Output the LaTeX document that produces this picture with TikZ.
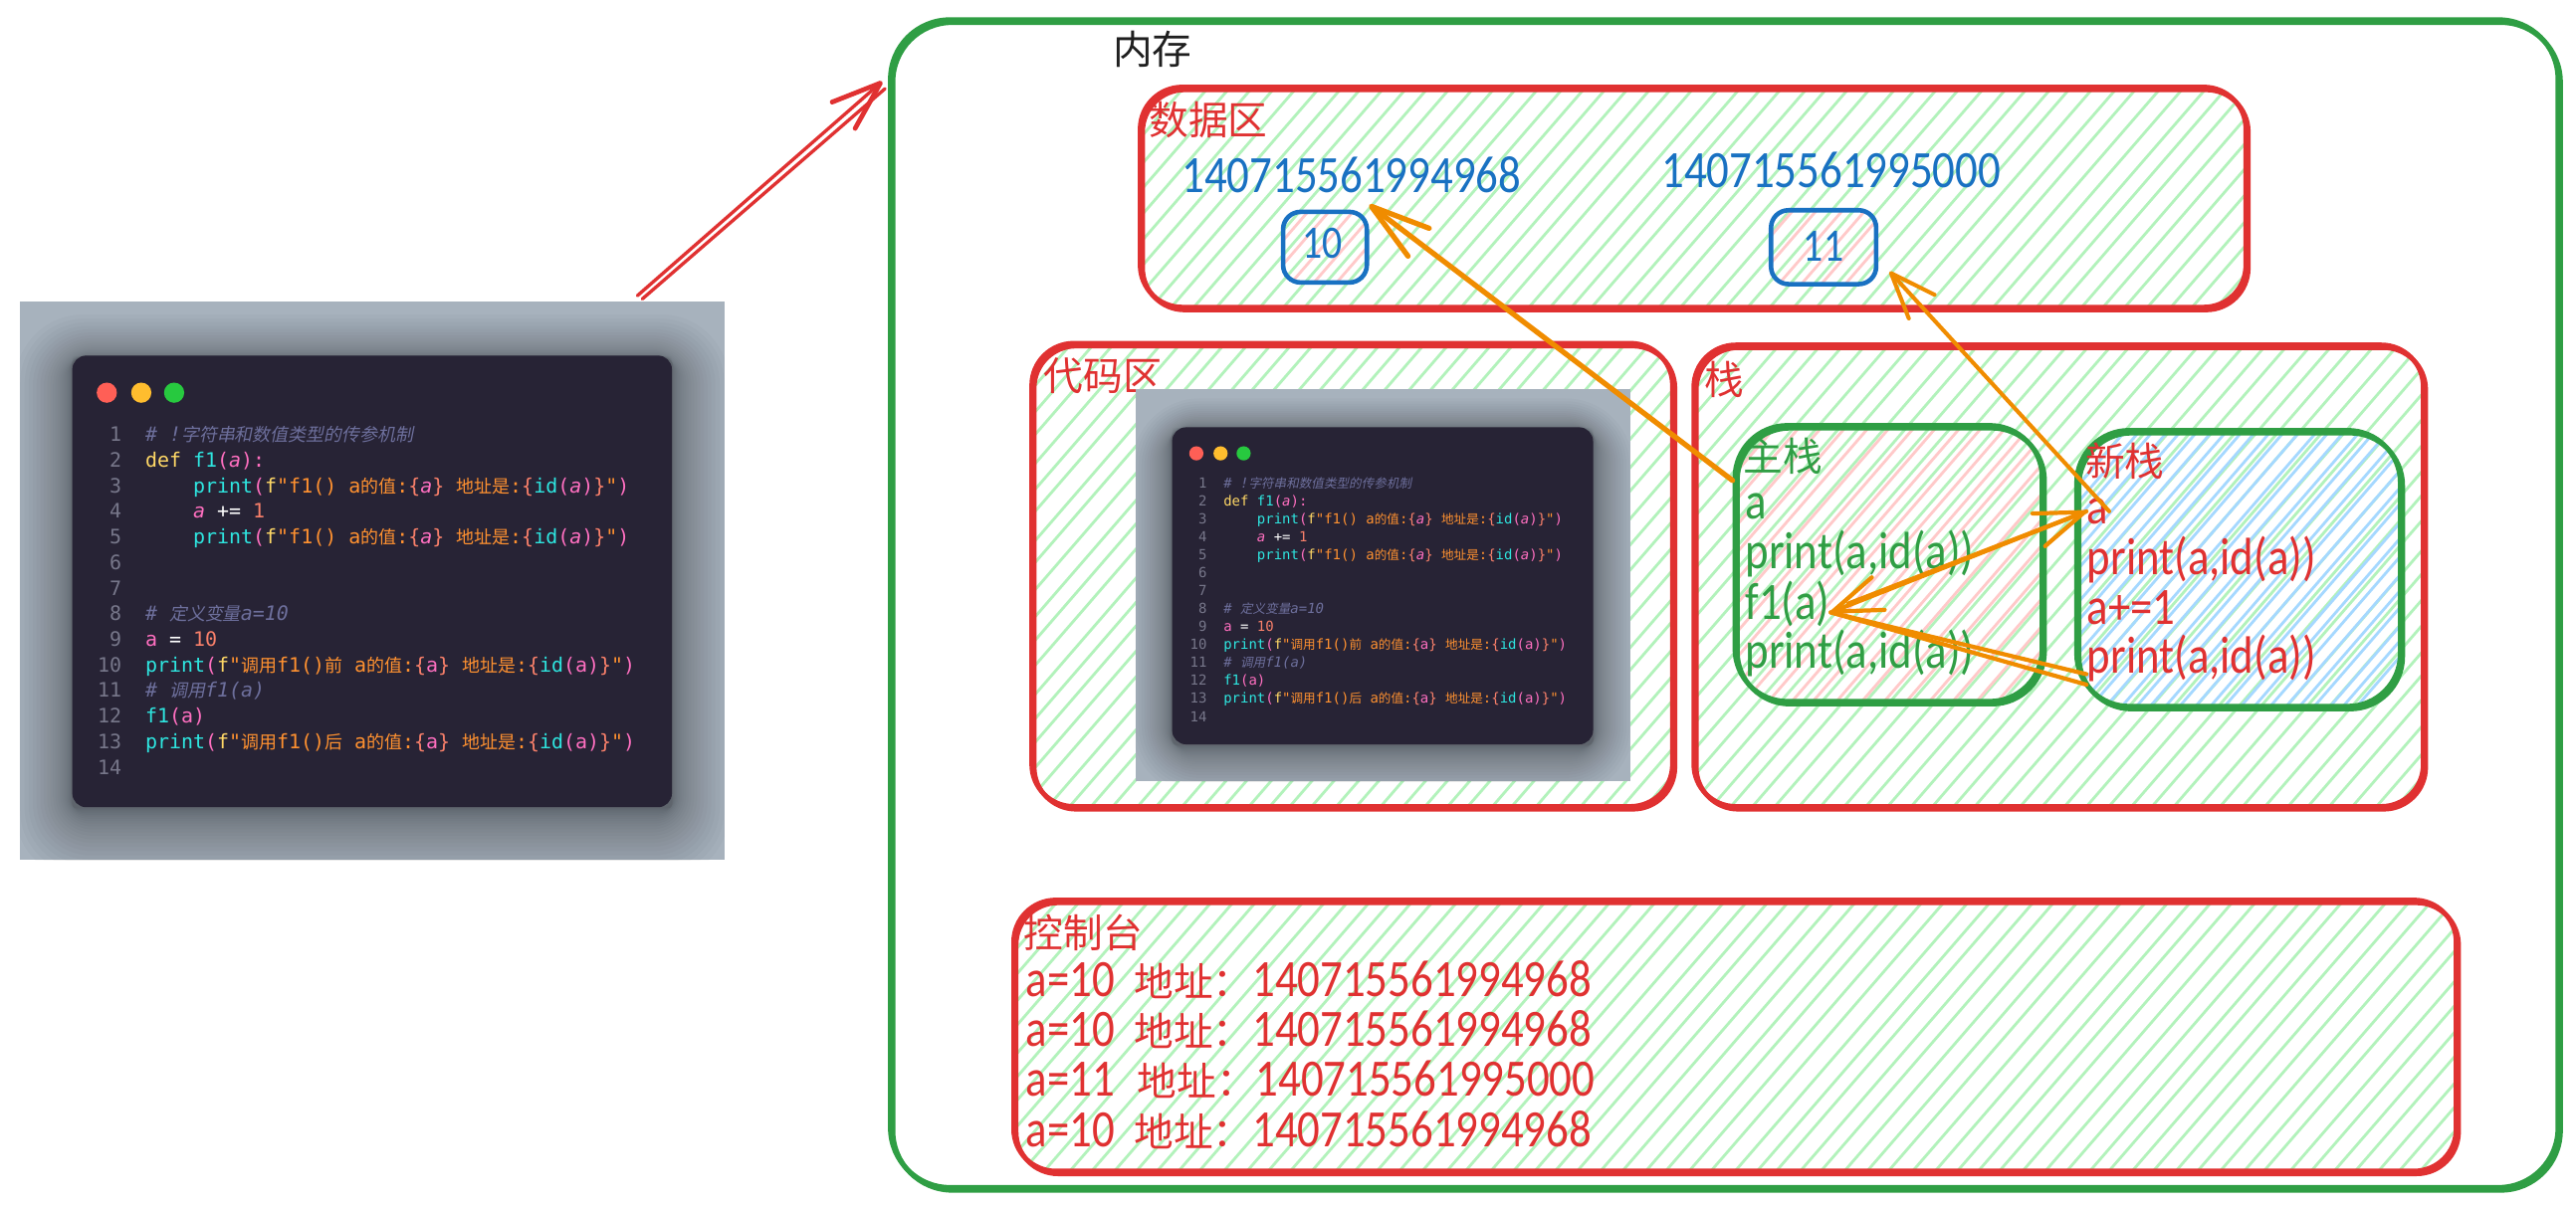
\documentclass[tikz,border=0pt]{standalone}
\usepackage{fontspec}
\usepackage{array}
\usetikzlibrary{arrows.meta, fit}
\setmonofont{DejaVu Sans Mono}
\newfontfamily\zhfam{Noto Sans CJK SC}
\newfontfamily\zhcode[Scale=0.9]{Noto Sans CJK SC}
\newfontfamily\zhslant[Scale=0.9,FakeSlant=0.2]{Noto Sans CJK SC}
\newfontfamily\handfam[FakeStretch=0.85]{Carlito}
\newcommand{\handfont}{\handfam\fontsize{15}{17}\selectfont}
\newcommand{\valfont}{\handfam\fontsize{13.3}{15}\selectfont}
\newcommand{\labelfont}{\zhfam\fontsize{11.3}{13}\selectfont}

\definecolor{skred}{HTML}{E03131}
\definecolor{skgreen}{HTML}{2F9E44}
\definecolor{skblue}{HTML}{1971C2}
\definecolor{skorange}{HTML}{F08C00}
\definecolor{hgreen}{HTML}{B2F2BB}
\definecolor{hpink}{HTML}{FFC9C9}
\definecolor{hblue}{HTML}{A5D8FF}
\definecolor{shotbg}{HTML}{A7B2BD}
\definecolor{shotcard}{HTML}{272335}
\definecolor{cnum}{HTML}{77778A}
\definecolor{ccom}{HTML}{6D6F9C}
\definecolor{cyel}{HTML}{FFD866}
\definecolor{ccy}{HTML}{2EE6E0}
\definecolor{cpk}{HTML}{FF6FC0}
\definecolor{cor}{HTML}{FF9130}
\definecolor{cco}{HTML}{F9806A}

\newlength{\codecw}
\newcommand{\zh}[1]{\smash{{\zhcode #1}}}
\newcommand{\zhit}[1]{\smash{{\zhslant #1}}}
\newcommand{\Kw}[1]{\textcolor{cyel}{#1}}
\newcommand{\Fn}[1]{\textcolor{ccy}{#1}}
\newcommand{\Pk}[1]{\textcolor{cpk}{#1}}
\newcommand{\Or}[1]{\textcolor{cor}{#1}}
\newcommand{\Co}[1]{\textcolor{cco}{#1}}
\newcommand{\Cm}[1]{\textcolor{ccom}{\itshape #1}}
\newcommand{\Ita}{\Pk{\itshape a}}
\newcommand{\fmttail}[1]{\Or{a\zh{的值}:}\Co{\{}#1\Co{\}} \Or{\zh{地址是}:}\Co{\{}\Fn{id}\Pk{(}#1\Pk{)}\Co{\}}\Or{"}\Pk{)}}
\newcommand{\codebody}{%
\begin{tabular}{@{}>{\color{cnum}}r@{\hspace{1.2em}}l@{}}
1 & \Cm{\# !\zhit{字符串和数值类型的传参机制}}\\
2 & \Kw{def} \Fn{f1}\Pk{(}\Ita\Pk{):}\\
3 & \hspace{4\codecw}\Fn{print}\Pk{(}\Kw{f}\Or{"f1() }\fmttail{\Ita}\\
4 & \hspace{4\codecw}\Ita{} \textcolor{white}{+=} \Co{1}\\
5 & \hspace{4\codecw}\Fn{print}\Pk{(}\Kw{f}\Or{"f1() }\fmttail{\Ita}\\
6 & \\
7 & \\
8 & \Cm{\# \zhit{定义变量}a=10}\\
9 & \Pk{a} \textcolor{white}{=} \Co{10}\\
10 & \Fn{print}\Pk{(}\Kw{f}\Or{"\zh{调用}f1()\zh{前} }\fmttail{\Pk{a}}\\
11 & \Cm{\# \zhit{调用}f1(a)}\\
12 & \Fn{f1}\Pk{(a)}\\
13 & \Fn{print}\Pk{(}\Kw{f}\Or{"\zh{调用}f1()\zh{后} }\fmttail{\Pk{a}}\\
14 &
\end{tabular}}

\newcommand{\hachurelines}[2]{%
\begin{scope}[shift={(path picture bounding box.center)}]
\foreach \k in {0,...,160}{
\pgfmathsetmacro{\hx}{\k*#2-720+rnd*2.5}
\draw[#1,line width=.8pt] (\hx-520,600)--(\hx+520,-600);
}
\end{scope}}

\newcommand{\codeshot}[5]{%
\begin{scope}[shift={(#1,#2)},scale=#3]
\fill[shotbg] (0,0) rectangle (429,340);
\begin{scope}
\clip (0,0) rectangle (429,340);
\foreach \k in {1,...,24}{
\pgfmathsetmacro{\sp}{0.06*\k*\k}
\pgfmathsetmacro{\dn}{0.4*\k}
\fill[black,opacity=.019,rounded corners=\k*.8pt] (32-\sp,33+\dn-\sp) rectangle (397+\sp,308+\dn+\sp);
}
\end{scope}
\fill[shotcard,rounded corners=4] (32,33) rectangle (397,308);
\foreach \cx/\cc in {53/FF5F56,74/FFBD2E,94/27C93F}{
\definecolor{dotc}{HTML}{\cc}
\fill[dotc] (\cx,55.6) circle (6.15);
}
\node[anchor=north west,inner sep=0,font=\fontsize{#4}{#5}\selectfont\ttfamily] at (47,74) {\setlength{\codecw}{#4pt}\setlength{\codecw}{0.602\codecw}\codebody};
\end{scope}}

\tikzset{
sketch/.style={postaction={draw,transform canvas={xshift=.7pt,yshift=-.8pt}}},
zone/.style={draw=skred,line width=1.35pt,rounded corners=12pt,inner sep=0,sketch},
cell/.style={draw=skgreen,line width=1.35pt,rounded corners=15pt,inner sep=0,sketch},
valbox/.style={draw=skblue,line width=1.3pt,rounded corners=5pt,inner sep=0},
valtext/.style={inner sep=0,text=skblue,font=\valfont},
hachure/.style 2 args={path picture={\hachurelines{#1}{#2}}},
hand/.style={inner sep=0,anchor=base west,font=\handfont},
zhlabel/.style={inner sep=0,anchor=base west,font=\labelfont},
thinarrow/.style={draw=skorange,line width=1.15pt,line cap=round,-{Straight Barb[length=13pt,width=10pt,round]}},
stackarrow/.style={draw=skorange,line width=1.2pt,line cap=round,-{Straight Barb[length=14pt,width=10pt,round]}},
stackline/.style={draw=skorange,line width=1.2pt,line cap=round},
thickarrow/.style={draw=skorange,line width=1.5pt,line cap=round,-{Straight Barb[length=17pt,width=10pt,round]}},
redarrow/.style={draw=skred,line width=.95pt,line cap=round},
}

\begin{document}
\begin{tikzpicture}[x=0.016505cm,y=-0.016505cm]
\pgfmathsetseed{11}
\useasboundingbox (0,0) rectangle (1568,735);

\codeshot{12}{183.5}{1}{5.68}{7.32}
\coordinate (shotoutA) at (388,180);
\coordinate (shotoutB) at (391,182);

\node[draw=skgreen,line width=1.4pt,rounded corners=17pt,inner sep=0,sketch,fit={(542,12) (1557,723)}] (memory) {};
\node[zhlabel,text=black!88] (memorylabel) at (677,39) {内存};
\coordinate (memtipA) at (537,49.6);
\coordinate (memtipB) at (538.7,54);

\node[zone,hachure={hgreen}{13.5},fit={(694,53) (1367,187)}] (datazone) {};
\node[zhlabel,text=skred] (datalabel) at (699,82) {数据区};
\node[hand,text=skblue] (addrten) at (719,117) {140715561994968};
\node[hand,text=skblue] (addreleven) at (1011,114.5) {140715561995000};
\node[valbox,hachure={hpink}{14},fit={(781,129) (832,172)}] (valten) {};
\node[valtext] (valtennum) at (805,148) {10};
\node[valbox,hachure={hpink}{14},fit={(1078,128) (1142,173)}] (valeleven) {};
\node[valtext] (valelevennum) at (1110,150) {11};

\node[zone,hachure={hgreen}{13.5},fit={(628,209) (1018,491)}] (codezone) {};
\node[zhlabel,text=skred] (codelabel) at (635,238) {代码区};
\codeshot{691}{237}{0.702}{3.98}{5.14}

\node[zone,hachure={hgreen}{13.5},fit={(1031,210) (1475,491)}] (stackzone) {};
\node[zhlabel,text=skred] (stacklabel) at (1037,240) {栈};

\node[cell,hachure={hpink}{14},fit={(1056,259) (1243,427)}] (mainstack) {};
\node[zhlabel,text=skgreen] (mainlabel) at (1061,287) {主栈};
\node[hand,text=skgreen] (maina) at (1062,316) {a};
\node[hand,text=skgreen] (mainprinta) at (1062,346.5) {print(a,id(a))};
\node[hand,text=skgreen] (maincall) at (1062,377) {f1(a)};
\node[hand,text=skgreen] (mainprintb) at (1062,407) {print(a,id(a))};

\node[cell,hachure={hblue}{9},fit={(1264,262) (1461,430)}] (newstack) {};
\node[zhlabel,text=skred] (newlabel) at (1269,290) {新栈};
\node[hand,text=skred] (newa) at (1270,319) {a};
\node[hand,text=skred] (newprinta) at (1270,350) {print(a,id(a))};
\node[hand,text=skred] (newadd) at (1270,380) {a+=1};
\node[hand,text=skred] (newprintb) at (1270,410) {print(a,id(a))};

\node[zone,hachure={hgreen}{13.5},fit={(617,548) (1495,713)}] (consolezone) {};
\node[zhlabel,text=skred] (consolelabel) at (623,577) {控制台};
\foreach \i/\y/\v/\xa/\xb/\n in {1/607/a=10/690/762/140715561994968,
2/637/a=10/690/762/140715561994968,
3/667.5/a=11/692/764/140715561995000,
4/698/a=10/690/762/140715561994968}{
\node[hand,text=skred] (consoleval\i) at (624,\y) {\v};
\node[zhlabel,text=skred] (consoleword\i) at (\xa,\y) {地址：};
\node[hand,text=skred] (consoleaddr\i) at (\xb,\y) {\n};
}

\draw[redarrow,-{Straight Barb[length=14pt,width=10pt,round,line width=1.35pt]}] (shotoutA)--(memtipA);
\draw[redarrow] (shotoutB)--(memtipB);
\draw[thickarrow] (mainstack.152)--([yshift=1.4pt]valten.north east);
\draw[thinarrow] (newa.east)--([xshift=3.2pt]valeleven.-24);
\draw[stackarrow] ([xshift=5pt]maincall.east)--(newa.west);
\draw[stackarrow] (newa.west)--([yshift=-2.5pt]maincall.east);
\draw[stackline] ([yshift=-4.5pt]newprintb.west)--([yshift=-2.5pt]maincall.east);
\draw[stackline] ([yshift=-7.5pt]newprintb.west)--([yshift=-2.5pt]maincall.east);
\end{tikzpicture}
\end{document}
